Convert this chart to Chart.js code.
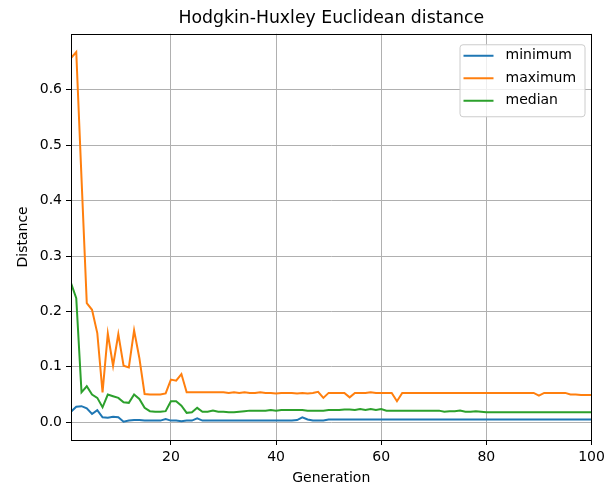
<!DOCTYPE html>
<html>
<head>
<meta charset="utf-8">
<script src="https://cdn.jsdelivr.net/npm/chart.js@4"></script>
<style>
  body { margin: 0; background: #fff; }
  #wrap { width: 611px; height: 487px; }
</style>
</head>
<body>
<div id="wrap"><canvas id="chart" width="611" height="487"></canvas></div>
<script>
// Data
const firstGeneration = 1;
const generationCount = 100;

const minimum = [
  0.019, 0.028, 0.029, 0.025, 0.015, 0.022, 0.009, 0.008, 0.010, 0.009,
  0.001, 0.003, 0.004, 0.004, 0.003, 0.003, 0.003, 0.003, 0.006, 0.003,
  0.003, 0.002, 0.003, 0.003, 0.007, 0.003, 0.003, 0.003, 0.003, 0.003,
  0.003, 0.003, 0.003, 0.003, 0.003, 0.003, 0.003, 0.003, 0.003, 0.003,
  0.003, 0.003, 0.003, 0.004, 0.009, 0.005, 0.003, 0.003, 0.003, 0.005,
  0.005, 0.005, 0.005, 0.005, 0.005, 0.005, 0.005, 0.005, 0.005, 0.005,
  0.005, 0.005, 0.005, 0.005, 0.005, 0.005, 0.005, 0.005, 0.005, 0.005,
  0.005, 0.005, 0.005, 0.005, 0.005, 0.005, 0.005, 0.005, 0.005, 0.005,
  0.005, 0.005, 0.005, 0.005, 0.005, 0.005, 0.005, 0.005, 0.005, 0.005,
  0.005, 0.005, 0.005, 0.005, 0.005, 0.005, 0.005, 0.005, 0.005, 0.005
];

const maximum = [
  0.657, 0.668, 0.440, 0.215, 0.203, 0.161, 0.054, 0.160, 0.102, 0.159,
  0.102, 0.099, 0.166, 0.116, 0.051, 0.050, 0.050, 0.050, 0.052, 0.077,
  0.075, 0.087, 0.054, 0.054, 0.054, 0.054, 0.054, 0.054, 0.054, 0.054,
  0.053, 0.054, 0.053, 0.054, 0.053, 0.053, 0.054, 0.053, 0.053, 0.052,
  0.053, 0.053, 0.053, 0.052, 0.053, 0.052, 0.053, 0.055, 0.044, 0.053,
  0.053, 0.053, 0.053, 0.045, 0.053, 0.053, 0.053, 0.054, 0.053, 0.053,
  0.053, 0.053, 0.038, 0.053, 0.053, 0.053, 0.053, 0.053, 0.053, 0.053,
  0.053, 0.053, 0.053, 0.053, 0.053, 0.053, 0.053, 0.053, 0.053, 0.053,
  0.053, 0.053, 0.053, 0.053, 0.053, 0.053, 0.053, 0.053, 0.053, 0.048,
  0.053, 0.053, 0.053, 0.053, 0.053, 0.050, 0.050, 0.049, 0.049, 0.049
];

const median = [
  0.251, 0.224, 0.054, 0.065, 0.050, 0.044, 0.027, 0.050, 0.047, 0.044,
  0.036, 0.035, 0.050, 0.042, 0.026, 0.020, 0.019, 0.019, 0.020, 0.038,
  0.038, 0.030, 0.017, 0.018, 0.026, 0.019, 0.019, 0.021, 0.019, 0.019,
  0.018, 0.018, 0.019, 0.020, 0.021, 0.021, 0.021, 0.021, 0.022, 0.021,
  0.022, 0.022, 0.022, 0.022, 0.022, 0.021, 0.021, 0.021, 0.021, 0.022,
  0.022, 0.022, 0.023, 0.023, 0.022, 0.024, 0.022, 0.024, 0.022, 0.024,
  0.021, 0.021, 0.021, 0.021, 0.021, 0.021, 0.021, 0.021, 0.021, 0.021,
  0.021, 0.019, 0.020, 0.020, 0.021, 0.019, 0.019, 0.020, 0.019, 0.018,
  0.018, 0.018, 0.018, 0.018, 0.018, 0.018, 0.018, 0.018, 0.018, 0.018,
  0.018, 0.018, 0.018, 0.018, 0.018, 0.018, 0.018, 0.018, 0.018, 0.018
];

const xTicks = [20, 40, 60, 80, 100];
const yTicks = [0.0, 0.1, 0.2, 0.3, 0.4, 0.5, 0.6];

const generations = [];
for (let i = 0; i < generationCount; i++) generations.push(firstGeneration + i);

function toPoints(values) {
  return values.map((v, i) => ({ x: generations[i], y: v }));
}

const FONT = 'DejaVu Sans';

// matplotlib-like frame and legend box inside the axes
const mplDecor = {
  id: 'mplDecor',
  afterDatasetsDraw(chart) {
    const ctx = chart.ctx;
    const a = chart.chartArea;
    ctx.save();
    ctx.strokeStyle = '#000';
    ctx.lineWidth = 1;
    ctx.strokeRect(Math.round(a.left) + 0.5, Math.round(a.top) + 0.5,
                   Math.round(a.right - a.left) - 1, Math.round(a.bottom - a.top));

    // legend
    const sets = chart.data.datasets;
    const w = 125, rowH = 22.5;
    const h = 27 + rowH * (sets.length - 1);
    const x0 = a.right - 7 - w, y0 = a.top + 10.5;
    ctx.beginPath();
    ctx.roundRect(x0 + 0.5, y0 + 0.5, w, h, 3);
    ctx.fillStyle = 'rgba(255,255,255,0.8)';
    ctx.fill();
    ctx.strokeStyle = '#cccccc';
    ctx.stroke();
    ctx.font = '14px ' + FONT;
    ctx.textBaseline = 'middle';
    sets.forEach((ds, i) => {
      const cy = y0 + 11.5 + i * rowH;
      ctx.strokeStyle = ds.borderColor;
      ctx.lineWidth = 2;
      ctx.beginPath();
      ctx.moveTo(x0 + 4, cy);
      ctx.lineTo(x0 + 34, cy);
      ctx.stroke();
      ctx.fillStyle = '#000';
      ctx.fillText(ds.label, x0 + 46, cy);
    });
    ctx.restore();
  }
};

new Chart(document.getElementById('chart').getContext('2d'), {
  type: 'line',
  data: {
    datasets: [
      { label: 'minimum', data: toPoints(minimum), borderColor: '#1f77b4' },
      { label: 'maximum', data: toPoints(maximum), borderColor: '#ff7f0e' },
      { label: 'median', data: toPoints(median), borderColor: '#2ca02c' }
    ]
  },
  options: {
    responsive: false,
    animation: false,
    elements: {
      line: { borderWidth: 2, tension: 0, fill: false },
      point: { radius: 0 }
    },
    layout: { padding: { left: 0, right: 19.5, top: 0, bottom: 0 } },
    plugins: {
      legend: { display: false },
      tooltip: { enabled: false },
      title: {
        display: true,
        fullSize: false,
        text: 'Hodgkin-Huxley Euclidean distance',
        color: '#000',
        font: { family: FONT, size: 17.3, weight: 'normal' },
        padding: { top: 8, bottom: 5 }
      }
    },
    scales: {
      x: {
        type: 'linear',
        min: 1,
        max: 100,
        afterBuildTicks(scale) { scale.ticks = xTicks.map(v => ({ value: v })); },
        afterFit(scale) { scale.height = 47; },
        grid: { color: '#b0b0b0', tickColor: '#000', tickLength: 5, lineWidth: 1 },
        border: { display: false },
        ticks: { color: '#000', font: { family: FONT, size: 14 }, padding: 4, maxRotation: 0 },
        title: {
          display: true, text: 'Generation', color: '#000',
          font: { family: FONT, size: 14 }, padding: { top: 2, bottom: 0 }
        }
      },
      y: {
        type: 'linear',
        min: -0.032,
        max: 0.701,
        afterBuildTicks(scale) { scale.ticks = yTicks.map(v => ({ value: v })); },
        afterFit(scale) { scale.width = 71; },
        grid: { color: '#b0b0b0', tickColor: '#000', tickLength: 5, lineWidth: 1 },
        border: { display: false },
        ticks: {
          color: '#000', font: { family: FONT, size: 14 }, padding: 4,
          callback: v => v.toFixed(1)
        },
        title: {
          display: true, text: 'Distance', color: '#000',
          font: { family: FONT, size: 14 }, padding: { top: 15, bottom: 4 }
        }
      }
    }
  },
  plugins: [mplDecor]
});
</script>
</body>
</html>
